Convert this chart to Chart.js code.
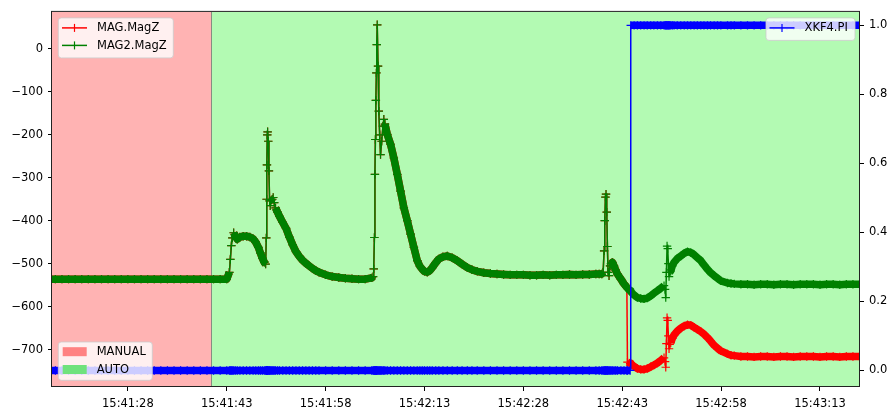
<!DOCTYPE html>
<html><head><meta charset="utf-8">
<script src="https://cdn.jsdelivr.net/npm/chart.js@4.4.0/dist/chart.umd.min.js"></script>
<style>html,body{margin:0;padding:0;background:#fff;}#wrap{width:888px;height:407px;}</style>
</head><body><div id="wrap"><canvas id="c" width="888" height="407"></canvas></div>
<script>
// time in seconds after 15:41:00
const times = [
16,17,18,19,20,21,22,23,24,25,26,27,28,29,30,31,32,33,34,35,36,37,38,39,40,41,42,43,
43.4,43.55,43.7,43.85,44.05,44.3,44.6,45,45.5,46,46.5,47,47.4,47.8,48.1,48.4,48.7,48.9,
49,49.05,49.1,49.15,49.2,49.3,49.4,49.5,49.6,49.75,49.9,50.05,50.2,50.4,50.7,
51,51.5,52,52.5,53,53.5,54,54.5,55,55.5,56,56.5,57,58,59,60,61,62,63,64,65,65.2,
65.3,65.4,65.48,65.55,65.62,65.7,65.76,65.83,65.95,66.07,66.2,66.33,66.5,66.7,66.83,67,
67.35,67.85,68.35,68.87,69.37,69.87,70.39,70.89,71.39,71.9,72.3,72.66,73,73.42,73.8,74.18,74.7,75.18,75.8,76.46,77.2,77.98,78.7,79.5,80.2,81,
82,83,84,85,86,87,88,89,90,91,92,93,94,95,96,97,98,99,99.5,99.9,
100.1,100.25,100.35,100.45,100.54,100.65,100.75,100.85,101,101.15,101.3,101.5,101.75,102,102.27,102.8,103.27,103.7,
103.79,104.2,104.29,104.8,105.3,105.8,106.31,106.8,107.32,107.8,108.34,108.85,109.34,
109.5,109.6,109.7,109.8,109.9,110,110.1,110.2,110.36,110.6,110.86,
111.35,111.88,112.4,112.9,113.4,113.9,114.4,114.92,115.4,115.93,116.4,116.94,117.45,117.96,118.97,119.5,120,121,
122,123,124,125,126,127,128,129,130,131,132,133,134,135,136,137,138,139,140
];
const magZ = [
-536,-536,-536,-536,-536,-536,-536,-536,-536,-536,-536,-536,-536,-536,-536,-536,-536,-536,-536,-536,-536,-536,-536,-536,-536,-536,-536,-536,
-520,-490,-458,-440,-428,-436,-443,-438,-436,-436,-438,-442,-450,-462,-475,-487,-497,-501,
-440,-350,-270,-200,-193,-215,-284,-354,-365,-352,-350,-346,-358,-370,-380,
-390,-404,-418,-438,-456,-472,-483,-492,-499,-505,-511,-516,-520,-526,-530,-532,-534,-535,-536,-536,-533,-530,
-512,-439,-292,-211,-120,-56,10,56,-40,-145,-200,-246,-215,-180,-164,-175,
-199,-222,-254,-292,-331,-370,-400,-431,-462,-493,-506,-513,-518,-520,-516,-509,-498,-489,-484,-482,-486,-493,-501,-509,-514,-518,
-521,-523,-524,-525,-526,-526,-526,-527,-527,-526,-527,-526,-526,-525,-526,-525,-525,-524,-524,-524,
-520,-470,-400,-345,-338,-380,-460,-520,-528,-505,-500,-497,-505,-515,-524,-536,-547,-555,
-729,-732,-733,-739,-744,-746,-746,-744,-740,-736,-731,-725,-719,
-728,-741,-686,-626,-632,-668,-698,-688,-684,-674,-666,
-657,-650,-645,-642,-643,-648,-653,-658,-664,-672,-680,-690,-697,-703,-710,-713,-714,-716,
-716,-717,-716,-716,-717,-716,-716,-717,-716,-716,-716,-717,-716,-716,-717,-716,-716,-716,-716
];
const mag2Z = [
-536,-536,-536,-536,-536,-536,-536,-536,-536,-536,-536,-536,-536,-536,-536,-536,-536,-536,-536,-536,-536,-536,-536,-536,-536,-536,-536,-536,
-520,-490,-458,-440,-428,-436,-443,-438,-436,-436,-438,-442,-450,-462,-475,-487,-497,-501,
-440,-350,-270,-200,-193,-215,-284,-354,-365,-352,-350,-346,-358,-370,-380,
-390,-404,-418,-438,-456,-472,-483,-492,-499,-505,-511,-516,-520,-526,-530,-532,-534,-535,-536,-536,-533,-530,
-512,-439,-292,-211,-120,-56,10,56,-40,-145,-200,-246,-215,-180,-164,-175,
-199,-222,-254,-292,-331,-370,-400,-431,-462,-493,-506,-513,-518,-520,-516,-509,-498,-489,-484,-482,-486,-493,-501,-509,-514,-518,
-521,-523,-524,-525,-526,-526,-526,-527,-527,-526,-527,-526,-526,-525,-526,-525,-525,-524,-524,-524,
-520,-470,-400,-345,-338,-380,-460,-520,-528,-505,-500,-497,-505,-515,-524,-536,-547,-555,
-557,-563,-565,-573,-579,-581,-582,-580,-575,-569,-563,-557,-551,
-560,-579,-520,-459,-465,-500,-530,-520,-517,-505,-497,
-488,-482,-476,-472,-474,-479,-486,-493,-503,-513,-521,-528,-534,-540,-545,-546,-547,-548,
-548,-549,-548,-548,-549,-548,-548,-549,-548,-548,-548,-549,-548,-548,-549,-548,-548,-548,-548
];
const xkf4PI = [
0,0,0,0,0,0,0,0,0,0,0,0,0,0,0,0,0,0,0,0,0,0,0,0,0,0,0,0,
0,0,0,0,0,0,0,0,0,0,0,0,0,0,0,0,0,0,
0,0,0,0,0,0,0,0,0,0,0,0,0,0,0,
0,0,0,0,0,0,0,0,0,0,0,0,0,0,0,0,0,0,0,0,0,0,
0,0,0,0,0,0,0,0,0,0,0,0,0,0,0,0,
0,0,0,0,0,0,0,0,0,0,0,0,0,0,0,0,0,0,0,0,0,0,0,0,0,0,
0,0,0,0,0,0,0,0,0,0,0,0,0,0,0,0,0,0,0,0,
0,0,0,0,0,0,0,0,0,0,0,0,0,0,0,0,0,0,
0,0,1,1,1,1,1,1,1,1,1,1,1,
1,1,1,1,1,1,1,1,1,1,1,
1,1,1,1,1,1,1,1,1,1,1,1,1,1,1,1,1,1,
1,1,1,1,1,1,1,1,1,1,1,1,1,1,1,1,1,1,1
];
const seriesNames = ['MAG.MagZ', 'MAG2.MagZ', 'XKF4.PI'];
const modeNames = ['MANUAL', 'AUTO'];
const modeStarts = [16.49, 40.68];
const modeEnds = [40.68, 139.07];
const timeRange = [16.49, 139.07];
const magRange = [-787, 86];
const piRange = [-0.048, 1.039];
const leftTicks = [-700, -600, -500, -400, -300, -200, -100, 0];
const rightTicks = [0, 0.2, 0.4, 0.6, 0.8, 1.0];
const timeTicks = [28, 43, 58, 73, 88, 103, 118, 133];
const timeTickLabels = ['15:41:28', '15:41:43', '15:41:58', '15:42:13', '15:42:28', '15:42:43', '15:42:58', '15:43:13'];

const FONT = 'DejaVu Sans';
const FS = 11.5;
const colors = ['#ff0000', '#008000', '#0000ff'];
const spanFill = ['#ffb3b3', '#b3fab3'];
const spanPatch = ['#ff8282', '#70e27c'];

Chart.defaults.font.family = FONT;
Chart.defaults.font.size = FS;
Chart.defaults.color = '#000';

// thin line where samples are sparse along a steep jump, thick band where dense markers overlap
const segW = c => {
  const dx = Math.abs(c.p1.x - c.p0.x), dy = Math.abs(c.p1.y - c.p0.y);
  return (dx < 1.5 && dy > 1.5 * dx) ? 1.5 : 7.5;
};

function mkSet(label, vals, color, axis, order) {
  return {
    label, yAxisID: axis, order,
    data: times.map((t, i) => ({x: t, y: vals[i]})),
    borderColor: color, backgroundColor: color,
    borderWidth: 1.5, borderJoinStyle: 'round', borderCapStyle: 'butt',
    pointStyle: 'cross', pointRadius: 4.2, pointBorderWidth: 1.2,
    pointBorderColor: color, pointHoverRadius: 4.2,
    fill: false, tension: 0, clip: 0,
    segment: { borderWidth: segW }
  };
}

function rr(ctx, x, y, w, h, r) {
  ctx.beginPath();
  ctx.moveTo(x + r, y);
  ctx.arcTo(x + w, y, x + w, y + h, r);
  ctx.arcTo(x + w, y + h, x, y + h, r);
  ctx.arcTo(x, y + h, x, y, r);
  ctx.arcTo(x, y, x + w, y, r);
  ctx.closePath();
}
function box(ctx, x, y, w, h) {
  rr(ctx, x, y, w, h, 3);
  ctx.fillStyle = 'rgba(255,255,255,0.8)';
  ctx.fill();
  ctx.strokeStyle = 'rgba(204,204,204,0.8)';
  ctx.lineWidth = 1;
  ctx.stroke();
}
function lineEntry(ctx, x, y, color, label) {
  ctx.strokeStyle = color; ctx.lineWidth = 1.5;
  ctx.beginPath(); ctx.moveTo(x, y); ctx.lineTo(x + 25, y); ctx.stroke();
  ctx.lineWidth = 1.2;
  ctx.beginPath(); ctx.moveTo(x + 12.5, y - 4); ctx.lineTo(x + 12.5, y + 4); ctx.stroke();
  ctx.fillStyle = '#000'; ctx.textAlign = 'left'; ctx.textBaseline = 'middle';
  ctx.fillText(label, x + 35, y + 0.5);
}
function patchEntry(ctx, x, y, color, label) {
  ctx.fillStyle = color;
  ctx.fillRect(x, y - 4.5, 24, 9);
  ctx.fillStyle = '#000'; ctx.textAlign = 'left'; ctx.textBaseline = 'middle';
  ctx.fillText(label, x + 34, y + 0.5);
}

const decor = {
  id: 'decor',
  beforeDatasetsDraw(chart) {
    const {ctx, chartArea: a, scales: {x}} = chart;
    ctx.save();
    ctx.beginPath(); ctx.rect(a.left, a.top, a.right - a.left, a.bottom - a.top); ctx.clip();
    modeNames.forEach((m, i) => {
      const x0 = x.getPixelForValue(modeStarts[i]), x1 = x.getPixelForValue(modeEnds[i]);
      ctx.fillStyle = spanFill[i];
      ctx.fillRect(x0, a.top, x1 - x0, a.bottom - a.top);
    });
    const xd = Math.round(x.getPixelForValue(modeStarts[1])) + 0.5;
    ctx.strokeStyle = 'rgba(100,100,100,0.7)'; ctx.lineWidth = 1;
    ctx.beginPath(); ctx.moveTo(xd, a.top); ctx.lineTo(xd, a.bottom); ctx.stroke();
    ctx.restore();
  },
  afterDatasetsDraw(chart) {
    const {ctx, chartArea: a} = chart;
    ctx.save();
    ctx.strokeStyle = '#222'; ctx.lineWidth = 1;
    ctx.strokeRect(a.left - 0.5, a.top - 0.5, a.right - a.left, a.bottom - a.top);
    ctx.font = FS + 'px "' + FONT + '"';
    // upper-left legend
    box(ctx, a.left + 6.3, a.top + 6, 115, 40);
    lineEntry(ctx, a.left + 10, a.top + 16, colors[0], seriesNames[0]);
    lineEntry(ctx, a.left + 10, a.top + 33.5, colors[1], seriesNames[1]);
    // upper-right legend
    box(ctx, a.right - 94, a.top + 6, 89, 22.5);
    lineEntry(ctx, a.right - 90.5, a.top + 16, colors[2], seriesNames[2]);
    // lower-left legend
    box(ctx, a.left + 6.3, a.bottom - 45, 94, 38.3);
    patchEntry(ctx, a.left + 10.7, a.bottom - 35.3, spanPatch[0], modeNames[0]);
    patchEntry(ctx, a.left + 10.7, a.bottom - 17.5, spanPatch[1], modeNames[1]);
    ctx.restore();
  }
};

const fmtMinus = v => v < 0 ? '\u2212' + Math.abs(v) : String(v);
const tickGrid = { display: true, drawOnChartArea: false, drawTicks: true, tickLength: 4, color: '#000', lineWidth: 1 };

new Chart(document.getElementById('c'), {
  type: 'line',
  data: {
    datasets: [
      mkSet(seriesNames[0], magZ, colors[0], 'y', 2),
      mkSet(seriesNames[1], mag2Z, colors[1], 'y', 1),
      mkSet(seriesNames[2], xkf4PI, colors[2], 'y1', 0)
    ]
  },
  options: {
    responsive: false, animation: false, devicePixelRatio: 1,
    layout: { padding: { top: 11, left: 0, right: 0, bottom: 0 } },
    plugins: { legend: { display: false }, tooltip: { enabled: false } },
    events: [],
    scales: {
      x: {
        type: 'linear', position: 'bottom', min: timeRange[0], max: timeRange[1],
        afterBuildTicks: s => { s.ticks = timeTicks.map(v => ({value: v})); },
        afterFit: s => { s.height = 20; },
        grid: tickGrid, border: { display: false },
        ticks: { autoSkip: false, maxRotation: 0, minRotation: 0, padding: 6,
          callback: v => timeTickLabels[timeTicks.indexOf(v)] }
      },
      y: {
        type: 'linear', position: 'left', min: magRange[0], max: magRange[1],
        afterBuildTicks: s => { s.ticks = leftTicks.map(v => ({value: v})); },
        afterFit: s => { s.width = 52; },
        grid: tickGrid, border: { display: false },
        ticks: { padding: 5, callback: v => fmtMinus(v) }
      },
      y1: {
        type: 'linear', position: 'right', min: piRange[0], max: piRange[1],
        afterBuildTicks: s => { s.ticks = rightTicks.map(v => ({value: v})); },
        afterFit: s => { s.width = 28; },
        grid: tickGrid, border: { display: false },
        ticks: { padding: 5, callback: v => v.toFixed(1) }
      }
    }
  },
  plugins: [decor]
});
</script>
</body></html>
